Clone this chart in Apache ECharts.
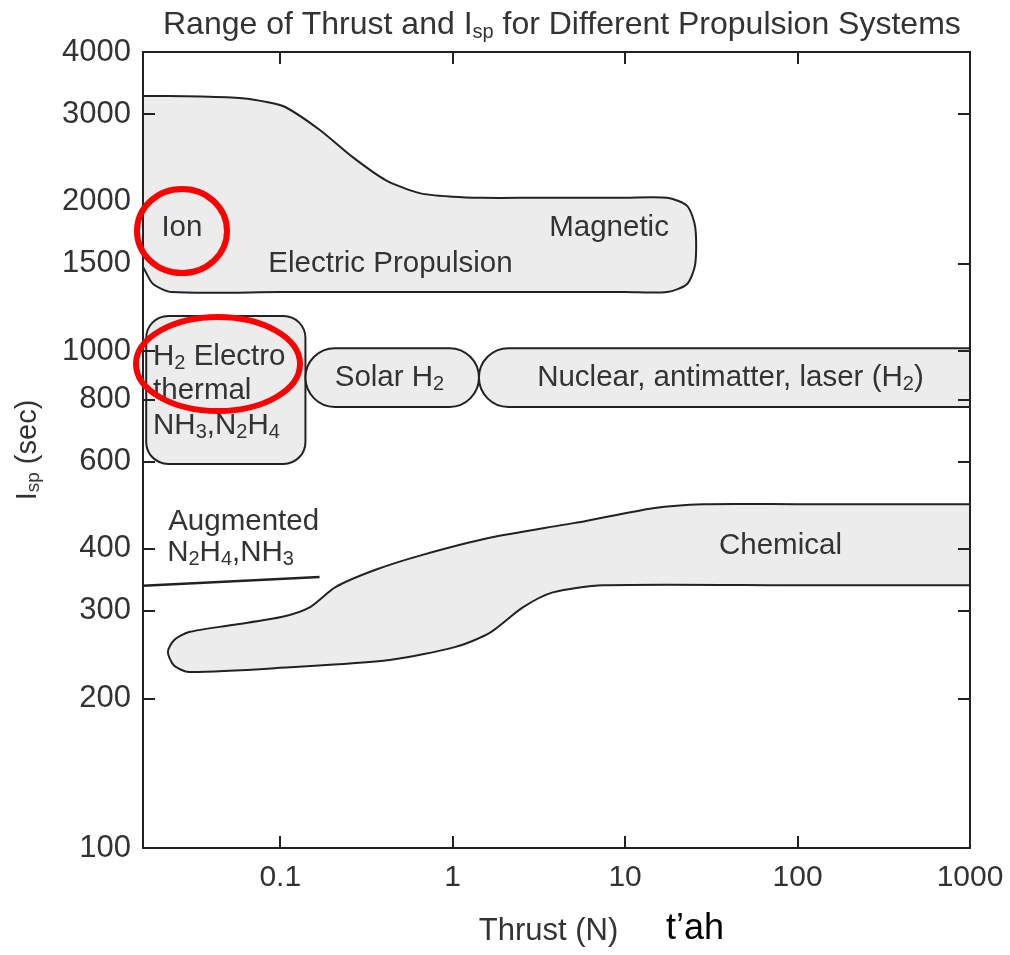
<!DOCTYPE html>
<html><head><meta charset="utf-8">
<script src="https://cdn.jsdelivr.net/npm/echarts@6/dist/echarts.min.js"></script>
<style>html,body{margin:0;padding:0;background:#fff}#c{width:1010px;height:955px}</style>
</head><body><div id="c"></div>
<script>
// ---- data (thrust in N, Isp in s) ----
const thrustTicks = [0.1, 1, 10, 100, 1000];
const thrustTickMarks = [0.1, 1, 10, 100];
const ispTicks = [100, 200, 300, 400, 600, 800, 1000, 1500, 2000, 3000, 4000];
const ispTickMarksLeft = [200, 300, 400, 600, 800, 1000, 3000];
const ispTickMarksRight = [200, 300, 400, 600, 800, 1000, 1500, 3000];

const electricOutline = [[0.012,3262],[0.0145,3262],[0.0175,3262],[0.02,3262],[0.035,3255],[0.06,3230],[0.085,3170],[0.107,3100],[0.169,2790],[0.262,2460],[0.408,2210],[0.643,2080],[1.0,2045],[1.5,2035],[3,2035],[10,2035],[17.5,2035],[22.9,1961],[25.5,1777],[25.5,1497],[22.9,1365],[17.5,1315],[10,1315],[1,1315],[0.1,1315],[0.0235,1315],[0.0183,1365],[0.0163,1460],[0.014,1620],[0.012,1800]];
const chemicalOutline = [[0.0223,248],[0.0242,262],[0.0296,272],[0.0526,281],[0.103,292],[0.148,305],[0.209,335],[0.357,363],[0.669,389],[1.64,421],[4.37,447],[5.93,455],[14.5,483],[28.4,492],[100,492],[1000,492],[3000,492],[3000,338],[1000,338],[100,338],[7.45,338],[3.81,327],[2.55,305],[1.64,271],[1.04,254],[0.43,239],[0.113,231],[0.0296,226],[0.0242,233]];
// rounded boxes: [thrustMin, thrustMax, ispMin, ispMax]
const boxNames = ['H2 electrothermal', 'Solar H2', 'Nuclear, antimatter, laser'];
const boxes = [[0.0167, 0.14, 593, 1177], [0.14, 1.42, 772, 1014], [1.42, 5000, 772, 1014]];
const augmentedLine = [[0.016, 337], [0.169, 351]];

const labelTexts = ['Ion', 'Magnetic', 'Electric Propulsion', 'H{s|2} Electro', 'thermal', 'NH{s|3},N{s|2}H{s|4}', 'Solar H{s|2}', 'Nuclear, antimatter, laser (H{s|2})', 'Augmented', 'N{s|2}H{s|4},NH{s|3}', 'Chemical'];
const labelAnchors = [[0.0269,1769],[8.07,1769],[0.436,1497],[0.0183,973],[0.0183,831],[0.0183,707],[0.43,883],[40.8,883],[0.0224,453],[0.0221,392],[79.6,405]];
// ---- styles ----
const labelAlign = ['center','center','center','left','left','left','center','center','left','left','center'];
const boxRadius = [22, 'pill', 'pill'];
const FONT = '"Liberation Sans", Arial, Helvetica, sans-serif';
const TXT = '#333';
const LINE = '#222';
const FILL = '#ececec';
const subStyle = {fontSize: 20, fontFamily: FONT, color: TXT, padding: [13, 0, 0, 0]};

function polygonSeries(name, outline) {
  return {
    type: 'custom', name: name, coordinateSystem: 'cartesian2d', clip: true, silent: true, z: 2,
    data: outline, encode: {x: 0, y: 1},
    renderItem: function (params, api) {
      if (params.dataIndex !== 0) return null;
      const pts = outline.map(function (p) { return api.coord(p); });
      return {type: 'polygon', shape: {points: pts, smooth: 0.25},
        style: {fill: FILL, stroke: LINE, lineWidth: 2}};
    }
  };
}

const chart = echarts.init(document.getElementById('c'), null, {renderer: 'canvas'});
const axisCommon = function (extra) {
  return Object.assign({
    type: 'log', logBase: 10, z: 5,
    axisLine: {show: true, onZero: false, lineStyle: {color: LINE, width: 2}},
    splitLine: {show: false}, minorTick: {show: false}, minorSplitLine: {show: false}
  }, extra);
};
chart.setOption({
  backgroundColor: '#fff',
  animation: false,
  title: {
    text: 'Range of Thrust and I{s|sp} for Different Propulsion Systems',
    left: 158, top: 3,
    textStyle: {fontSize: 32, fontWeight: 'normal', color: TXT, fontFamily: FONT,
      rich: {s: {fontSize: 20, fontFamily: FONT, color: TXT, padding: [14, 0, 0, 0]}}}
  },
  grid: {left: 143, right: 40, top: 52, bottom: 107},
  xAxis: [
    axisCommon({min: 0.016, max: 1000, position: 'bottom',
      axisTick: {show: true, inside: true, length: 12, customValues: thrustTickMarks, lineStyle: {color: LINE, width: 2}},
      axisLabel: {customValues: thrustTicks, formatter: function (v) { return String(v); }, fontSize: 30, color: TXT, fontFamily: FONT, margin: 15},
      name: 'Thrust (N)', nameLocation: 'middle', nameGap: 68,
      nameTextStyle: {fontSize: 31, color: TXT, fontFamily: FONT, padding: [0, 16, 0, 0]}}),
    axisCommon({min: 0.016, max: 1000, position: 'top',
      axisTick: {show: true, inside: true, length: 12, customValues: thrustTickMarks, lineStyle: {color: LINE, width: 2}},
      axisLabel: {show: false}})
  ],
  yAxis: [
    axisCommon({min: 100, max: 4000, position: 'left',
      axisTick: {show: true, inside: true, length: 12, customValues: ispTickMarksLeft, lineStyle: {color: LINE, width: 2}},
      axisLabel: {customValues: ispTicks, formatter: function (v) { return String(v); }, fontSize: 31, color: TXT, fontFamily: FONT, margin: 12},
      name: 'I{s|sp} (sec)', nameLocation: 'middle', nameGap: 100,
      nameTextStyle: {fontSize: 29, color: TXT, fontFamily: FONT, rich: {s: {fontSize: 19, fontFamily: FONT, color: TXT, padding: [12, 0, 0, 0]}}}}),
    axisCommon({min: 100, max: 4000, position: 'right',
      axisTick: {show: true, inside: true, length: 12, customValues: ispTickMarksRight, lineStyle: {color: LINE, width: 2}},
      axisLabel: {show: false}})
  ],
  series: [
    polygonSeries('Electric Propulsion', electricOutline),
    polygonSeries('Chemical', chemicalOutline),
    {
      type: 'custom', name: 'Boxes', coordinateSystem: 'cartesian2d', clip: true, silent: true, z: 2,
      data: boxes,
      renderItem: function (params, api) {
        const b = boxes[params.dataIndex];
        const tl = api.coord([b[0], b[3]]);
        const br = api.coord([b[1], b[2]]);
        const w = br[0] - tl[0], h = br[1] - tl[1];
        const rr = boxRadius[params.dataIndex] === 'pill' ? h / 2 : boxRadius[params.dataIndex];
        return {type: 'rect', shape: {x: tl[0], y: tl[1], width: w, height: h, r: rr},
          style: {fill: FILL, stroke: LINE, lineWidth: 2}};
      }
    },
    {
      type: 'line', name: 'Augmented', data: augmentedLine, showSymbol: false, symbol: 'none', silent: true, z: 3,
      lineStyle: {color: LINE, width: 2.5}
    },
    {
      type: 'custom', name: 'Labels', coordinateSystem: 'cartesian2d', silent: true, z: 4,
      data: labelAnchors,
      renderItem: function (params, api) {
        const i = params.dataIndex;
        const p = api.coord(labelAnchors[i]);
        return {type: 'text', x: p[0], y: p[1],
          style: {text: labelTexts[i], fill: TXT, fontSize: 29.5, fontFamily: FONT,
            align: labelAlign[i], verticalAlign: 'middle', rich: {s: subStyle}}};
      }
    }
  ],
  graphic: [
    {type: 'ellipse', shape: {cx: 182, cy: 231, rx: 45, ry: 42}, style: {fill: 'none', stroke: '#f00', lineWidth: 6}, z: 100},
    {type: 'ellipse', shape: {cx: 218, cy: 364, rx: 82, ry: 47}, style: {fill: 'none', stroke: '#f00', lineWidth: 6}, z: 100},
    {type: 'text', x: 666, y: 947, style: {text: 't\u2019ah', fill: '#000', font: '36px "Liberation Sans Narrow", "Liberation Sans", Arial, sans-serif', verticalAlign: 'bottom'}, z: 100}
  ]
});
</script>
</body></html>
